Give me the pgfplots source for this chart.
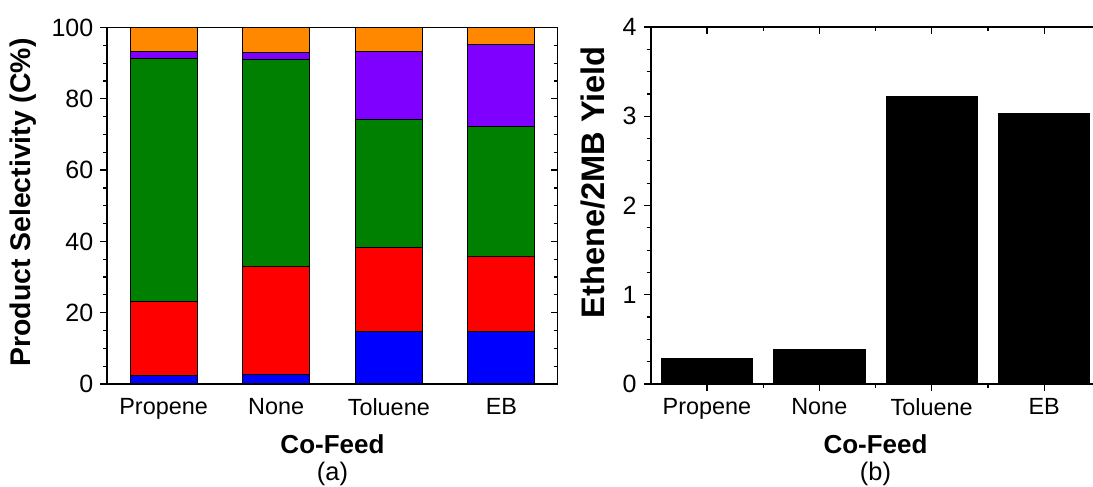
\documentclass[border=0pt]{standalone}
\usepackage{pgfplots}
\pgfplotsset{compat=1.18}
\usepackage{fontspec}
\setmainfont{Liberation Sans}
\definecolor{cBlue}{RGB}{0,0,255}
\definecolor{cRed}{RGB}{255,0,0}
\definecolor{cGreen}{RGB}{0,128,0}
\definecolor{cPurple}{RGB}{128,0,255}
\definecolor{cOrange}{RGB}{255,136,0}
\begin{document}
\begin{tikzpicture}
\pgfplotsset{
 common/.style={scale only axis, anchor=south west, clip=false,
   /pgf/number format/assume math mode=true,
   tick style={black, line width=0.6pt},
   axis line style={line width=0.8pt},
   major tick length=3.5pt, minor tick length=2pt,
   yticklabel style={font=\fontsize{12.5}{14}\selectfont},
   xticklabel style={font=\fontsize{11.7}{14}\selectfont},
   xmin=-0.5, xmax=3.5},
}
% ---------- panel (a) ----------
\begin{axis}[common, at={(53.65pt,51.5pt)}, width=225.2pt, height=178.25pt,
  ybar stacked, bar width=33.5pt, ymin=0, ymax=100,
  ytick={0,20,...,100}, minor y tick num=3,
  xtick={0,1,2,3}, xticklabels={Propene,None,Toluene,EB},
  major x tick style={draw=none},
  ytick pos=left, tick align=outside,
  ylabel={Product Selectivity (C\%)},
  ylabel style={at={(axis description cs:-0.187,0.509)}, anchor=center, font=\bfseries\fontsize{14.2}{16}\selectfont}]
\addplot[fill=cBlue, draw=black, line width=0.5pt] coordinates {(0,2.5) (1,2.8) (2,14.6) (3,14.8)};
\addplot[fill=cRed, draw=black, line width=0.5pt] coordinates {(0,20.7) (1,30.2) (2,23.7) (3,21.1)};
\addplot[fill=cGreen, draw=black, line width=0.5pt] coordinates {(0,68.0) (1,58.0) (2,35.9) (3,36.2)};
\addplot[fill=cPurple, draw=black, line width=0.5pt] coordinates {(0,2.0) (1,2.0) (2,19.2) (3,23.1)};
\addplot[fill=cOrange, draw=black, line width=0.5pt] coordinates {(0,6.8) (1,7.0) (2,6.6) (3,4.8)};
\node[font=\bfseries\fontsize{13}{15}\selectfont] at (axis description cs:0.5,-0.168) {Co-Feed};
\node[font=\fontsize{12.7}{15}\selectfont] at (axis description cs:0.5,-0.252) {(a)};
\end{axis}
\begin{axis}[common, at={(53.65pt,51.5pt)}, width=225.2pt, height=178.25pt,
  ymin=0, ymax=100, ytick={0,20,...,100}, minor y tick num=3, yticklabels={},
  xtick=\empty, ytick pos=right, tick align=inside, axis line style={draw=none}]
\end{axis}
% ---------- panel (b) ----------
\begin{axis}[common, at={(325.35pt,51.5pt)}, width=224.8pt, height=178.5pt,
  ybar, bar width=45.65pt, ymin=0, ymax=4,
  ytick={0,1,2,3,4}, minor y tick num=3,
  xtick={0,1,2,3}, xticklabels={Propene,None,Toluene,EB},
  minor xtick={0.5,1.5,2.5},
  ytick pos=left, xtick pos=left, tick align=outside,
  ylabel={Ethene/2MB Yield},
  ylabel style={at={(axis description cs:-0.128,0.565)}, anchor=center, font=\bfseries\fontsize{16.3}{18}\selectfont}]
\addplot[fill=black, draw=black] coordinates {(0,0.284) (1,0.385) (2,3.22) (3,3.03)};
\node[font=\bfseries\fontsize{13}{15}\selectfont] at (axis description cs:0.5,-0.168) {Co-Feed};
\node[font=\fontsize{12.7}{15}\selectfont] at (axis description cs:0.5,-0.252) {(b)};
\end{axis}
\begin{axis}[common, at={(325.35pt,51.5pt)}, width=224.8pt, height=178.5pt,
  ymin=0, ymax=4, ytick={0,1,2,3,4}, minor y tick num=3, yticklabels={},
  xtick={0,1,2,3}, minor xtick={0.5,1.5,2.5}, xticklabels={},
  ytick pos=right, xtick pos=right, tick align=inside, axis line style={draw=none}]
\end{axis}
\pgfresetboundingbox
\path[use as bounding box] (0,0) rectangle (546.5pt,243.5pt);
\end{tikzpicture}
\end{document}
